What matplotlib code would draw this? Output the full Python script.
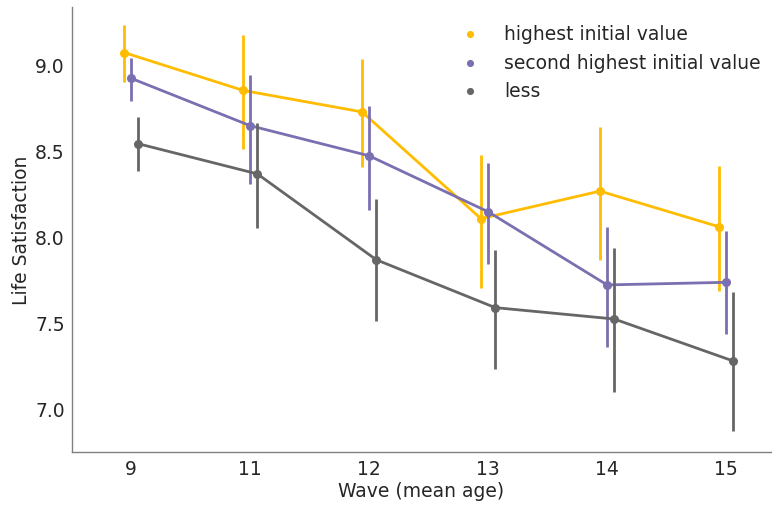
import matplotlib
matplotlib.use("Agg")
import matplotlib.pyplot as plt
import numpy as np

# mean life satisfaction per wave, split by initial value group
waves = ["9", "11", "12", "13", "14", "15"]
groups = ["highest initial value", "second highest initial value", "less"]
colors = ["#FFBC00", "#7A6FB0", "#666666"]

means = {
    "highest initial value": [9.07, 8.85, 8.725, 8.105, 8.265, 8.058],
    "second highest initial value": [8.92, 8.645, 8.47, 8.145, 7.72, 7.735],
    "less": [8.54, 8.365, 7.866, 7.588, 7.522, 7.278],
}
ci_low = {
    "highest initial value": [8.90, 8.51, 8.405, 7.70, 7.865, 7.685],
    "second highest initial value": [8.79, 8.305, 8.155, 7.84, 7.36, 7.435],
    "less": [8.38, 8.05, 7.51, 7.23, 7.098, 6.87],
}
ci_high = {
    "highest initial value": [9.228, 9.17, 9.03, 8.477, 8.635, 8.413],
    "second highest initial value": [9.04, 8.94, 8.762, 8.43, 8.058, 8.035],
    "less": [8.698, 8.663, 8.22, 7.924, 7.935, 7.68],
}

plt.rcParams['font.family'] = ['DejaVu Sans']
fig, ax = plt.subplots(figsize=(7.72, 5.06), dpi=100)
fig.subplots_adjust(left=0.093, right=0.999, top=0.985, bottom=0.105)

x = np.arange(len(waves))
offsets = [-0.06, 0.0, 0.06]
for g, c, off in zip(groups, colors, offsets):
    m = np.array(means[g])
    lo = np.array(ci_low[g])
    hi = np.array(ci_high[g])
    xs = x + off
    ax.vlines(xs, lo, hi, color=c, lw=2.0)
    ax.plot(xs, m, color=c, lw=2.0)
    ax.scatter(xs, m, color=c, s=30, zorder=3, label=g)

ax.set_xticks(x)
ax.set_xticklabels(waves)
ax.set_xlim(-0.5, 5.38)
ax.set_ylim(6.75, 9.337)
ax.set_yticks([7.0, 7.5, 8.0, 8.5, 9.0])
ax.set_xlabel("Wave (mean age)", fontsize=13.5, color="#262626", labelpad=2)
ax.set_ylabel("Life Satisfaction", fontsize=13.5, color="#262626", labelpad=3)
ax.tick_params(axis="both", labelsize=13.5, length=0, pad=5, labelcolor="#262626")

for s in ["top", "right"]:
    ax.spines[s].set_visible(False)
for s in ["left", "bottom"]:
    ax.spines[s].set_color("#808080")
    ax.spines[s].set_linewidth(1.0)

ax.legend(loc="upper right", bbox_to_anchor=(1.01, 1.0), frameon=False,
          fontsize=13.5, handletextpad=0.8, borderaxespad=0.55,
          markerscale=0.75, labelcolor="#262626")

fig.savefig("out.png", dpi=100)
